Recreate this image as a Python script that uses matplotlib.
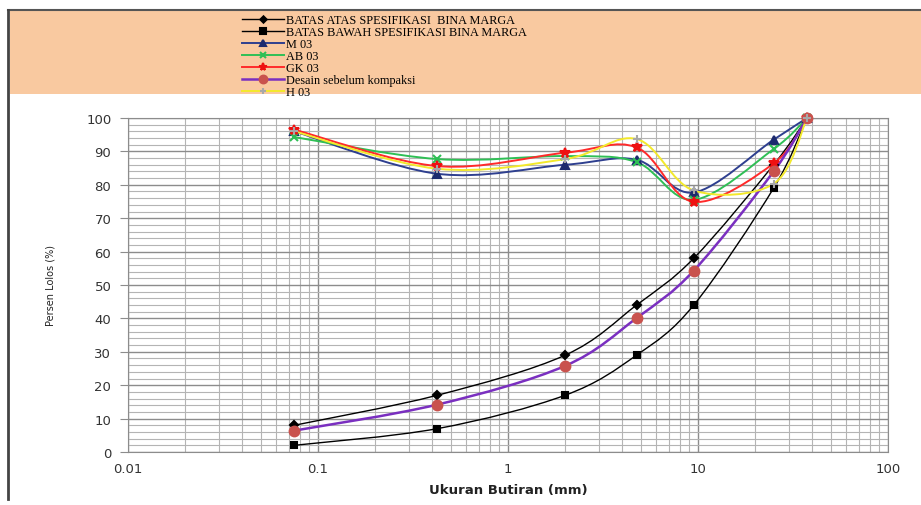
import numpy as np
import matplotlib
matplotlib.use('Agg')
from matplotlib import pyplot as plt
from matplotlib import ticker as mticker
from matplotlib.path import Path
from matplotlib.patches import PathPatch, Rectangle
from matplotlib.lines import Line2D

# Sieve sizes (mm) and percent passing per series
sieve       = [0.075, 0.425, 2.0, 4.75, 9.5, 25.0, 37.5]
batas_atas  = [8, 17, 29, 44, 58, 86, 100]
batas_bawah = [2, 7, 17, 29, 44, 79, 100]
m03         = [96, 83.3, 86, 87.5, 77.7, 93.5, 100]
ab03        = [94.3, 87.7, 88.6, 86.8, 75.5, 90.7, 100]
gk03        = [96.5, 85.6, 89.6, 91.2, 74.9, 86.4, 100]
desain      = [6.4, 14.2, 25.8, 40.1, 54.3, 84.0, 100]
h03         = [96, 84.8, 87.7, 93.7, 78.3, 80.3, 100]

labels = ['BATAS ATAS SPESIFIKASI  BINA MARGA',
          'BATAS BAWAH SPESIFIKASI BINA MARGA',
          'M 03', 'AB 03', 'GK 03', 'Desain sebelum kompaksi', 'H 03']


def smooth_path(x, y):
    # Excel-like smoothed line: cubic Bezier segments in (log10 x, y) space
    u = np.log10(np.asarray(x, dtype=float))
    v = np.asarray(y, dtype=float)
    n = len(u)
    verts = [(10 ** u[0], v[0])]
    codes = [Path.MOVETO]
    for i in range(n - 1):
        i0 = max(i - 1, 0)
        i3 = min(i + 2, n - 1)
        c1 = (u[i] + (u[i + 1] - u[i0]) / 6, v[i] + (v[i + 1] - v[i0]) / 6)
        c2 = (u[i + 1] - (u[i3] - u[i]) / 6, v[i + 1] - (v[i3] - v[i]) / 6)
        verts += [(10 ** c1[0], c1[1]), (10 ** c2[0], c2[1]),
                  (10 ** u[i + 1], v[i + 1])]
        codes += [Path.CURVE4] * 3
    return Path(verts, codes)


def main():

    fig = plt.figure(figsize=(9.21, 5.06), dpi=100)

    # Peach header band and outer frame
    fig.patches.append(Rectangle((10 / 921, 1 - 95 / 506), 1, 84 / 506,
                                 transform=fig.transFigure,
                                 facecolor='#f9c9a0', edgecolor='none', zorder=0))
    fig.add_artist(Line2D([8 / 921, 1], [1 - 11 / 506] * 2, color='#555555', lw=1.5))
    fig.add_artist(Line2D([8 / 921] * 2, [1 - 11 / 506, 1 - 500 / 506],
                          color='#444444', lw=2))

    ax = fig.add_axes([128 / 921, 53 / 506, 760 / 921, 334 / 506])
    ax.set_xscale('log')
    ax.set_xlim(0.01, 100)
    ax.set_ylim(0, 100)

    series = [
        (batas_atas,  '#000000', '#000000', 'D', 4, 1.0),
        (batas_bawah, '#000000', '#000000', 's', 5, 1.0),
        (m03,         '#2e3f8f', '#1c2a6e', '^', 6, 1.4),
        (ab03,        '#2fbf55', '#2fbf55', 'x', 6, 1.4),
        (gk03,        '#ff2a2a', '#ee1111', '*', 7, 1.4),
        (desain,      '#7a2fc0', '#c9524d', 'o', 7, 1.8),
        (h03,         '#f3e92b', '#a8a8a8', '+', 6, 1.4),
    ]

    handles = []
    for vals, lc, mc, mk, ms, lw in series:
        ax.add_patch(PathPatch(smooth_path(sieve, vals), facecolor='none',
                               edgecolor=lc, lw=lw, zorder=3))
        ax.plot(sieve, vals, linestyle='none', marker=mk, markersize=ms,
                color=mc, markeredgecolor=mc, mew=1.5, zorder=4, clip_on=False)
        handles.append(Line2D([], [], color=lc, lw=lw, marker=mk,
                              markersize=ms, markerfacecolor=mc,
                              markeredgecolor=mc, mew=1.5))

    # Grid
    ax.xaxis.set_major_locator(mticker.LogLocator(base=10, numticks=10))
    ax.xaxis.set_minor_locator(mticker.LogLocator(base=10, subs=np.arange(2, 10),
                                                  numticks=20))
    ax.xaxis.set_major_formatter(mticker.FuncFormatter(lambda v, p: '%g' % v))
    ax.xaxis.set_minor_formatter(mticker.NullFormatter())
    ax.yaxis.set_major_locator(mticker.MultipleLocator(10))
    ax.yaxis.set_minor_locator(mticker.MultipleLocator(2))
    ax.grid(which='major', color='#8c8c8c', lw=1.0)
    ax.grid(which='minor', color='#b4b4b4', lw=0.8)
    ax.set_axisbelow(True)
    for sp in ax.spines.values():
        sp.set_color('#8c8c8c')
    ax.tick_params(axis='y', which='major', length=6, color='#8c8c8c',
                   labelsize=9.5, pad=6, labelcolor='#333333')
    ax.tick_params(axis='y', which='minor', length=0)
    ax.tick_params(axis='x', which='both', length=0, labelsize=9.5, pad=7,
                   labelcolor='#333333')

    ax.set_xlabel('Ukuran Butiran (mm)', fontsize=9.5, fontweight='bold',
                  color='#222222', labelpad=6)
    ax.set_ylabel('Persen Lolos (%)', fontsize=7, color='#222222', labelpad=22)

    fig.legend(handles, labels, loc='upper left',
               bbox_to_anchor=(236 / 921, 1 - 9 / 506), frameon=False,
               prop={'family': 'Liberation Serif', 'size': 8.8},
               handlelength=3.4, handletextpad=0.2, labelspacing=0.0,
               borderpad=0.0, markerscale=0.8)

    fig.savefig('out.png', dpi=100)
    plt.close(fig)


if __name__ == '__main__': main()
